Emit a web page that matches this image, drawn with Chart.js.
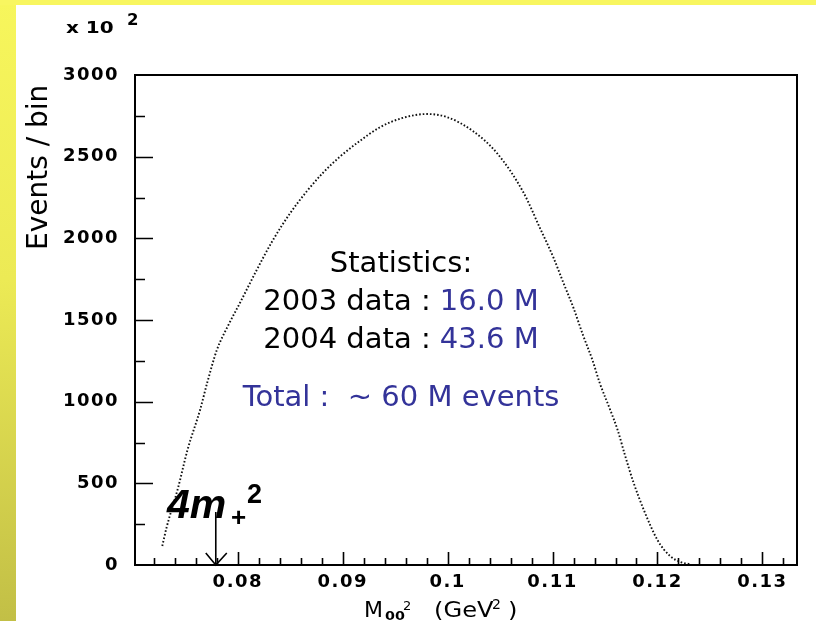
<!DOCTYPE html>
<html>
<head>
<meta charset="utf-8">
<script src="https://cdn.jsdelivr.net/npm/chart.js@4"></script>
<style>
html,body{margin:0;padding:0;background:#fff;overflow:hidden}
#wrap{width:816px;height:621px;position:relative}
</style>
</head>
<body>
<div id="wrap"><canvas id="c" width="816" height="621"></canvas></div>
<script>
// M00^2 (GeV^2) bin positions
const massSq = [0.0728,0.0732,0.0743,0.0752,0.0764,0.0771,0.0780,0.0791,0.0802,0.0818,
  0.0833,0.0850,0.0866,0.0881,0.0897,0.0915,0.0936,0.0957,0.0980,0.0999,
  0.1024,0.1047,0.1072,0.1088,0.1101,0.1110,0.1120,0.1129,0.1138,0.1145,
  0.1155,0.1162,0.1169,0.1177,0.1187,0.1200,0.1212,0.1222,0.1231];
// Events / bin (x 10^2)
const eventsPerBin = [116,227,471,704,949,1120,1316,1469,1604,1806,
  1984,2155,2290,2400,2498,2590,2682,2737,2761,2743,
  2657,2522,2284,2063,1880,1733,1573,1408,1255,1114,
  949,827,673,508,337,153,55,18,6];
const xTickValues = [0.08,0.09,0.10,0.11,0.12,0.13];
const xTickLabels = ['0.08','0.09','0.1','0.11','0.12','0.13'];
const yTickValues = [0,500,1000,1500,2000,2500,3000];
const yTickLabels = ['0','500','1000','1500','2000','2500','3000'];
const thresholdMass = 0.0779; // 4 m+^2
const statsLines = [
  [['Statistics:','#000']],
  [['2003 data : ','#000'],['16.0 M','#333399']],
  [['2004 data : ','#000'],['43.6 M','#333399']],
  [['Total :  ~ 60 M events','#333399']]
];

const points = massSq.map((x,i)=>({x:x,y:eventsPerBin[i]}));

function sText(ctx, txt, x, y, font, sx, color){
  ctx.save();
  ctx.font = font;
  ctx.fillStyle = color || '#000';
  ctx.textAlign = 'left';
  ctx.textBaseline = 'alphabetic';
  ctx.translate(x, y);
  ctx.scale(sx, 1);
  ctx.fillText(txt, 0, 0);
  ctx.restore();
}

const decor = {
  id:'decor',
  beforeDraw(chart){
    const {ctx,width,height} = chart;
    ctx.save();
    ctx.fillStyle = '#fff';
    ctx.fillRect(0,0,width,height);
    const g = ctx.createLinearGradient(0,0,0,height);
    g.addColorStop(0,'#f7f65c');
    g.addColorStop(0.45,'#ecea55');
    g.addColorStop(1,'#c2bf46');
    ctx.fillStyle = g;
    ctx.fillRect(0,0,16,height);
    ctx.fillStyle = '#f8f660';
    ctx.fillRect(0,0,width,5);
    ctx.restore();
    ctx.letterSpacing = '1.5px';
  },
  beforeDatasetsDraw(chart){
    chart.ctx.letterSpacing = '0px';
  },
  afterDraw(chart){
    const ctx = chart.ctx;
    ctx.letterSpacing = '0px';
    const {left,right,top,bottom} = chart.chartArea;
    const xs = chart.scales.x, ys = chart.scales.y;
    ctx.save();
    ctx.strokeStyle = '#000';
    ctx.lineWidth = 2;
    ctx.strokeRect(left, top, right-left, bottom-top);
    ctx.lineWidth = 1.6;
    ctx.beginPath();
    for (let k = 36; k <= 66; k++) {
      const v = k*0.002;
      const px = Math.round(xs.getPixelForValue(v)) + 0.5;
      if (px <= left+1 || px >= right-1) continue;
      const len = (k % 5 === 0) ? 13 : 7;
      ctx.moveTo(px, bottom);
      ctx.lineTo(px, bottom - len);
    }
    for (let k = 1; k < 12; k++) {
      const v = k*250;
      const py = Math.round(ys.getPixelForValue(v)) + 0.5;
      const len = (k % 2 === 0) ? 18 : 10;
      ctx.moveTo(left, py);
      ctx.lineTo(left + len, py);
    }
    ctx.stroke();

    // arrow for 4m+^2
    const ax = xs.getPixelForValue(thresholdMass);
    ctx.lineWidth = 1.6;
    ctx.beginPath();
    ctx.moveTo(ax, 512);
    ctx.lineTo(ax, bottom);
    ctx.moveTo(ax - 10, bottom - 12);
    ctx.lineTo(ax, bottom);
    ctx.lineTo(ax + 11, bottom - 12);
    ctx.stroke();
    ctx.restore();

    // exponent label
    sText(ctx, 'x 10', 66, 33, 'bold 16px "DejaVu Sans"', 1.25);
    sText(ctx, '2', 127, 25, 'bold 15px "DejaVu Sans"', 1.1);

    // y title
    ctx.save();
    ctx.translate(47, 250);
    ctx.rotate(-Math.PI/2);
    ctx.font = '28px "DejaVu Sans"';
    ctx.fillStyle = '#000';
    ctx.textAlign = 'left';
    ctx.textBaseline = 'alphabetic';
    ctx.fillText('Events / bin', 0, 0);
    ctx.restore();

    // x title
    sText(ctx, 'M', 364, 617, '21px "DejaVu Sans"', 1.05);
    sText(ctx, '00', 385, 620, 'bold 13px "DejaVu Sans"', 1.1);
    sText(ctx, '2', 403, 610, '13px "DejaVu Sans"', 1.0);
    sText(ctx, '(GeV', 434, 617, '21px "DejaVu Sans"', 1.15);
    sText(ctx, '2', 492, 609, '14px "DejaVu Sans"', 1.0);
    sText(ctx, ')', 508, 617, '21px "DejaVu Sans"', 1.15);

    // 4m+^2
    sText(ctx, '4m', 167, 518, 'italic bold 41px "Liberation Sans"', 1.0);
    sText(ctx, '+', 231, 526, 'bold 26px "Liberation Sans"', 1.0);
    sText(ctx, '2', 247, 503, 'bold 27px "Liberation Sans"', 1.0);

    // statistics block
    const baselines = [272, 310, 348, 406];
    ctx.save();
    ctx.font = '29px "DejaVu Sans"';
    ctx.textBaseline = 'alphabetic';
    ctx.textAlign = 'left';
    statsLines.forEach((line, i) => {
      const w = line.reduce((s,p)=>s+ctx.measureText(p[0]).width, 0);
      let x = 401 - w/2;
      line.forEach(p => {
        ctx.fillStyle = p[1];
        ctx.fillText(p[0], x, baselines[i]);
        x += ctx.measureText(p[0]).width;
      });
    });
    ctx.restore();
  }
};

const tickFont = {family:'DejaVu Sans', weight:'bold', size:18};

new Chart(document.getElementById('c'), {
  type:'line',
  data:{
    datasets:[{
      data: points,
      borderColor:'#111',
      borderWidth:1.9,
      borderDash:[1.6,2],
      pointRadius:0,
      fill:false,
      cubicInterpolationMode:'monotone',
      clip:0
    }]
  },
  options:{
    responsive:false,
    animation:false,
    devicePixelRatio:1,
    layout:{padding:{top:75,right:19,left:0,bottom:0}},
    plugins:{legend:{display:false},tooltip:{enabled:false},title:{display:false}},
    scales:{
      x:{
        type:'linear',
        min:0.0702,
        max:0.1333,
        afterBuildTicks:(s)=>{ s.ticks = xTickValues.map(v=>({value:v})); },
        afterFit:(s)=>{ s.height = 56; },
        grid:{display:false, drawTicks:false},
        border:{display:false},
        ticks:{
          autoSkip:false, maxRotation:0, minRotation:0, padding:7,
          color:'#000', font:tickFont,
          callback:(v)=>{ const i = xTickValues.findIndex(t=>Math.abs(t-v)<1e-9); return i>=0 ? xTickLabels[i] : ''; }
        }
      },
      y:{
        type:'linear',
        min:0,
        max:3000,
        afterBuildTicks:(s)=>{ s.ticks = yTickValues.map(v=>({value:v})); },
        afterFit:(s)=>{ s.width = 135; },
        grid:{display:false, drawTicks:false},
        border:{display:false},
        ticks:{
          autoSkip:false, padding:16,
          color:'#000', font:tickFont,
          callback:(v)=>{ const i = yTickValues.indexOf(v); return i>=0 ? yTickLabels[i] : ''; }
        }
      }
    }
  },
  plugins:[decor]
});
</script>
</body>
</html>
